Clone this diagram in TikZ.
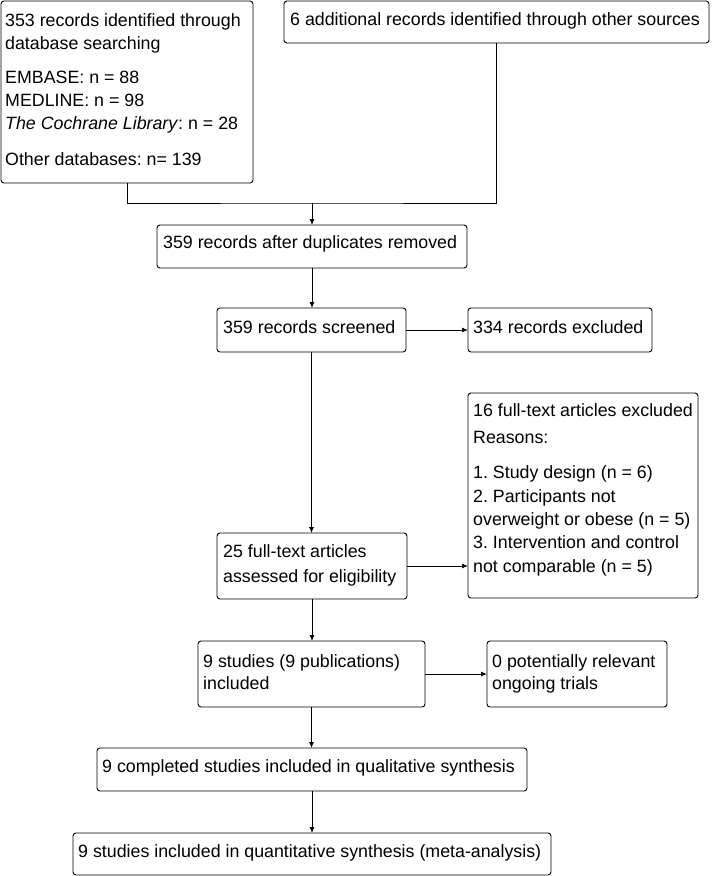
\documentclass[tikz,border=0pt]{standalone}
\usepackage{fontspec}
\setmainfont{Liberation Sans}
\frenchspacing
\usetikzlibrary{arrows.meta}
\begin{document}
\begin{tikzpicture}[x=1pt,y=-1pt,
  box/.style={draw=black, line width=0.9pt, rounded corners=3pt, inner sep=0pt, outer sep=0pt},
  txt/.style={anchor=base west, inner sep=0pt, align=left, font=\fontsize{17.8}{23}\selectfont\frenchspacing},
  link/.style={line width=0.9pt},
  arr/.style={line width=0.9pt, -{Latex[length=6pt,width=5pt]}}]
\useasboundingbox (0,0) rectangle (713,876);
% boxes
\node[box, minimum width=252pt, minimum height=182pt] (a) at (127,92) {};
\node[box, minimum width=425pt, minimum height=42pt] (b) at (496.5,22) {};
\node[box, minimum width=310pt, minimum height=43pt] (c) at (312,246.5) {};
\node[box, minimum width=189pt, minimum height=44pt] (d) at (311.5,330) {};
\node[box, minimum width=184pt, minimum height=44pt] (e) at (560,330) {};
\node[box, minimum width=230pt, minimum height=205pt] (f) at (583,495.5) {};
\node[box, minimum width=190pt, minimum height=66pt] (g) at (312,566) {};
\node[box, minimum width=227pt, minimum height=66pt] (h) at (311.5,674) {};
\node[box, minimum width=180pt, minimum height=66pt] (i) at (577,674) {};
\node[box, minimum width=430pt, minimum height=43pt] (j) at (312,769.5) {};
\node[box, minimum width=478pt, minimum height=42pt] (k) at (312,854) {};
% texts (anchored at the baseline of the last line)
\node[txt] (ta) at (5,165) {353 records identified through\\database searching\\[11pt]EMBASE: n = 88\\MEDLINE: n = 98\\\textit{The Cochrane Library}: n = 28\\[13pt]Other databases: n= 139};
\node[txt] (tb) at (290,25) {6 additional records identified through other sources};
\node[txt] (tc) at (163,248) {359 records after duplicates removed};
\node[txt] (td) at (223,333) {359 records screened};
\node[txt] (te) at (473,333) {334 records excluded};
\node[txt] (tf) at (473,572) {16 full-text articles excluded\\[4pt]Reasons:\\[12pt]1. Study design (n = 6)\\[1pt]2. Participants not\\overweight or obese (n = 5)\\3. Intervention and control\\[1pt]not comparable (n = 5)};
\node[txt] (tg) at (223,582) {25 full-text articles\\[2pt]assessed for eligibility};
\node[txt] (th) at (203,689) {9 studies (9 publications)\\[-1pt]included};
\node[txt] (ti) at (492,689) {0 potentially relevant\\[-1pt]ongoing trials};
\node[txt] (tj) at (102,772) {9 completed studies included in qualitative synthesis};
\node[txt] (tk) at (78,857) {9 studies included in quantitative synthesis (meta-analysis)};
% connectors
\coordinate (mrg) at (312,203);
\draw[link] (a.south) |- (mrg) -| (b.south);
\draw[arr] (mrg) -- (c.north);
\draw[arr] (c.south) -- (c.south |- d.north);
\draw[arr] (d.east) -- (e.west);
\draw[arr] (d.south) -- (d.south |- g.north);
\draw[arr] (g.east) -- (g.east -| f.west);
\draw[arr] (g.south) -- (g.south |- h.north);
\draw[arr] (h.east) -- (i.west);
\draw[arr] (h.south) -- (h.south |- j.north);
\draw[arr] (j.south) -- (j.south |- k.north);
\end{tikzpicture}
\end{document}
